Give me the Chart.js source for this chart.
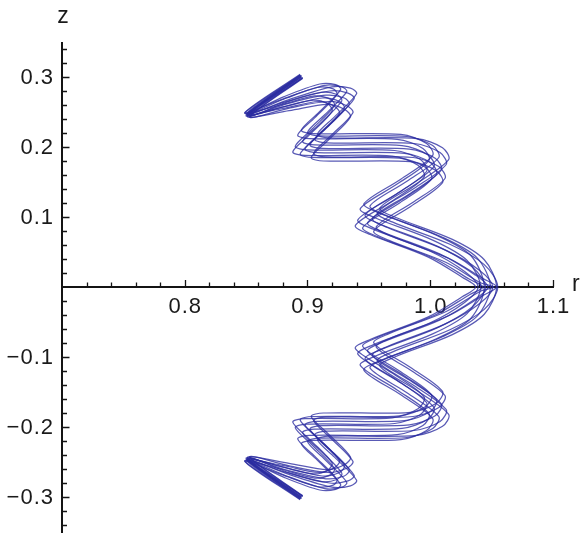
<!DOCTYPE html>
<html>
<head>
<meta charset="utf-8">
<script src="https://cdn.jsdelivr.net/npm/chart.js@4.4.1/dist/chart.umd.min.js"></script>
<style>
  html, body { margin: 0; padding: 0; background: #fff; }
  #wrap { width: 582px; height: 533px; }
</style>
</head>
<body>
<div id="wrap"><canvas id="orbit-chart" width="582" height="533"></canvas></div>
<script>
// axis ranges and tick labels
const rRange = [0.7, 1.1];
const zRange = [-0.35, 0.35];
const rTicks = [0.8, 0.9, 1.0, 1.1];
const rTickLabels = ['0.8', '0.9', '1.0', '1.1'];
const zTicks = [0.3, 0.2, 0.1, -0.1, -0.2, -0.3];
const zTickLabels = ['0.3', '0.2', '0.1', '\u22120.1', '\u22120.2', '\u22120.3'];

// orbits in the (r, z) plane, [r, z] pairs from the top end to the bottom end
const orbit1 = [[0.894,0.304],[0.849,0.249],[0.878,0.260],[0.906,0.273],[0.919,0.268],[0.922,0.259],[0.904,0.226],[0.890,0.201],[0.900,0.196],[0.971,0.195],[0.992,0.182],[0.997,0.165],[0.971,0.131],[0.941,0.096],[0.953,0.083],[1.000,0.051],[1.028,0.022],[1.039,0],
  [1.028,-0.022],[1.000,-0.051],[0.953,-0.083],[0.941,-0.096],[0.971,-0.131],[0.997,-0.165],[0.992,-0.182],[0.971,-0.195],[0.900,-0.196],[0.890,-0.201],[0.904,-0.226],[0.922,-0.259],[0.919,-0.268],[0.906,-0.273],[0.878,-0.260],[0.849,-0.249],[0.894,-0.304]];
const orbit2 = [[0.894,0.303],[0.849,0.249],[0.879,0.268],[0.908,0.285],[0.921,0.283],[0.924,0.275],[0.906,0.242],[0.892,0.217],[0.902,0.212],[0.973,0.211],[0.994,0.198],[0.999,0.181],[0.973,0.147],[0.943,0.112],[0.955,0.099],[1.002,0.067],[1.030,0.038],[1.041,0],
  [1.030,-0.038],[1.002,-0.067],[0.955,-0.099],[0.943,-0.112],[0.973,-0.147],[0.999,-0.181],[0.994,-0.198],[0.973,-0.211],[0.902,-0.212],[0.892,-0.217],[0.906,-0.242],[0.924,-0.275],[0.921,-0.283],[0.908,-0.285],[0.879,-0.268],[0.849,-0.249],[0.894,-0.303]];
const orbit3 = [[0.894,0.302],[0.850,0.247],[0.880,0.255],[0.909,0.265],[0.922,0.258],[0.926,0.248],[0.908,0.215],[0.894,0.190],[0.904,0.185],[0.975,0.184],[0.996,0.171],[1.001,0.154],[0.975,0.120],[0.945,0.085],[0.957,0.072],[1.004,0.040],[1.032,0.011],[1.043,0],
  [1.032,-0.011],[1.004,-0.040],[0.957,-0.072],[0.945,-0.085],[0.975,-0.120],[1.001,-0.154],[0.996,-0.171],[0.975,-0.184],[0.904,-0.185],[0.894,-0.190],[0.908,-0.215],[0.926,-0.248],[0.922,-0.258],[0.909,-0.265],[0.880,-0.255],[0.850,-0.247],[0.894,-0.302]];
const orbit4 = [[0.895,0.302],[0.851,0.247],[0.881,0.264],[0.911,0.278],[0.924,0.275],[0.928,0.266],[0.910,0.233],[0.896,0.208],[0.906,0.203],[0.977,0.202],[0.998,0.189],[1.003,0.172],[0.977,0.138],[0.947,0.103],[0.959,0.090],[1.006,0.058],[1.034,0.029],[1.045,0],
  [1.034,-0.029],[1.006,-0.058],[0.959,-0.090],[0.947,-0.103],[0.977,-0.138],[1.003,-0.172],[0.998,-0.189],[0.977,-0.202],[0.906,-0.203],[0.896,-0.208],[0.910,-0.233],[0.928,-0.266],[0.924,-0.275],[0.911,-0.278],[0.881,-0.264],[0.851,-0.247],[0.895,-0.302]];
const orbit5 = [[0.895,0.301],[0.851,0.245],[0.882,0.258],[0.912,0.270],[0.926,0.265],[0.930,0.255],[0.912,0.222],[0.898,0.197],[0.908,0.192],[0.979,0.191],[1.000,0.178],[1.005,0.161],[0.979,0.127],[0.949,0.092],[0.961,0.079],[1.008,0.047],[1.036,0.018],[1.047,0],
  [1.036,-0.018],[1.008,-0.047],[0.961,-0.079],[0.949,-0.092],[0.979,-0.127],[1.005,-0.161],[1.000,-0.178],[0.979,-0.191],[0.908,-0.192],[0.898,-0.197],[0.912,-0.222],[0.930,-0.255],[0.926,-0.265],[0.912,-0.270],[0.882,-0.258],[0.851,-0.245],[0.895,-0.301]];
const orbit6 = [[0.895,0.300],[0.851,0.247],[0.883,0.270],[0.914,0.288],[0.928,0.286],[0.932,0.279],[0.914,0.246],[0.900,0.221],[0.910,0.216],[0.981,0.215],[1.002,0.202],[1.007,0.185],[0.981,0.151],[0.951,0.116],[0.963,0.103],[1.010,0.071],[1.038,0.042],[1.049,0],
  [1.038,-0.042],[1.010,-0.071],[0.963,-0.103],[0.951,-0.116],[0.981,-0.151],[1.007,-0.185],[1.002,-0.202],[0.981,-0.215],[0.910,-0.216],[0.900,-0.221],[0.914,-0.246],[0.932,-0.279],[0.928,-0.286],[0.914,-0.288],[0.883,-0.270],[0.851,-0.247],[0.895,-0.300]];
const orbit7 = [[0.896,0.299],[0.852,0.245],[0.884,0.262],[0.915,0.274],[0.930,0.270],[0.934,0.261],[0.916,0.228],[0.902,0.203],[0.912,0.198],[0.983,0.197],[1.004,0.184],[1.009,0.167],[0.983,0.133],[0.953,0.098],[0.965,0.085],[1.012,0.053],[1.040,0.024],[1.051,0],
  [1.040,-0.024],[1.012,-0.053],[0.965,-0.085],[0.953,-0.098],[0.983,-0.133],[1.009,-0.167],[1.004,-0.184],[0.983,-0.197],[0.912,-0.198],[0.902,-0.203],[0.916,-0.228],[0.934,-0.261],[0.930,-0.270],[0.915,-0.274],[0.884,-0.262],[0.852,-0.245],[0.896,-0.299]];
const orbit8 = [[0.896,0.299],[0.853,0.243],[0.886,0.256],[0.917,0.265],[0.932,0.259],[0.937,0.249],[0.919,0.216],[0.905,0.191],[0.915,0.186],[0.986,0.185],[1.007,0.172],[1.012,0.155],[0.986,0.121],[0.956,0.086],[0.968,0.073],[1.015,0.041],[1.043,0.012],[1.054,0],
  [1.043,-0.012],[1.015,-0.041],[0.968,-0.073],[0.956,-0.086],[0.986,-0.121],[1.012,-0.155],[1.007,-0.172],[0.986,-0.185],[0.915,-0.186],[0.905,-0.191],[0.919,-0.216],[0.937,-0.249],[0.932,-0.259],[0.917,-0.265],[0.886,-0.256],[0.853,-0.243],[0.896,-0.299]];
const orbit9 = [[0.896,0.298],[0.853,0.244],[0.886,0.266],[0.918,0.280],[0.933,0.277],[0.938,0.269],[0.920,0.236],[0.906,0.211],[0.916,0.206],[0.987,0.205],[1.008,0.192],[1.013,0.175],[0.987,0.141],[0.957,0.106],[0.969,0.093],[1.016,0.061],[1.044,0.032],[1.055,0],
  [1.044,-0.032],[1.016,-0.061],[0.969,-0.093],[0.957,-0.106],[0.987,-0.141],[1.013,-0.175],[1.008,-0.192],[0.987,-0.205],[0.916,-0.206],[0.906,-0.211],[0.920,-0.236],[0.938,-0.269],[0.933,-0.277],[0.918,-0.280],[0.886,-0.266],[0.853,-0.244],[0.896,-0.298]];
const orbit10 = [[0.894,0.303],[0.850,0.245],[0.877,0.256],[0.905,0.267],[0.917,0.261],[0.920,0.251],[0.902,0.218],[0.888,0.193],[0.898,0.188],[0.969,0.187],[0.990,0.174],[0.995,0.157],[0.969,0.123],[0.939,0.088],[0.951,0.075],[0.998,0.043],[1.026,0.014],[1.037,0],
  [1.026,-0.014],[0.998,-0.043],[0.951,-0.075],[0.939,-0.088],[0.969,-0.123],[0.995,-0.157],[0.990,-0.174],[0.969,-0.187],[0.898,-0.188],[0.888,-0.193],[0.902,-0.218],[0.920,-0.251],[0.917,-0.261],[0.905,-0.267],[0.877,-0.256],[0.850,-0.245],[0.894,-0.303]];
const orbit11 = [[0.896,0.299],[0.852,0.247],[0.887,0.269],[0.920,0.286],[0.935,0.284],[0.940,0.276],[0.922,0.243],[0.908,0.218],[0.918,0.213],[0.989,0.212],[1.010,0.199],[1.015,0.182],[0.989,0.148],[0.959,0.113],[0.971,0.100],[1.018,0.068],[1.044,0.039],[1.054,0],
  [1.044,-0.039],[1.018,-0.068],[0.971,-0.100],[0.959,-0.113],[0.989,-0.148],[1.015,-0.182],[1.010,-0.199],[0.989,-0.212],[0.918,-0.213],[0.908,-0.218],[0.922,-0.243],[0.940,-0.276],[0.935,-0.284],[0.920,-0.286],[0.887,-0.269],[0.852,-0.247],[0.896,-0.299]];
const orbit12 = [[0.895,0.302],[0.851,0.248],[0.881,0.272],[0.910,0.290],[0.923,0.289],[0.927,0.282],[0.909,0.249],[0.895,0.224],[0.905,0.219],[0.976,0.218],[0.997,0.205],[1.002,0.188],[0.976,0.154],[0.946,0.119],[0.958,0.106],[1.005,0.074],[1.033,0.045],[1.044,0],
  [1.033,-0.045],[1.005,-0.074],[0.958,-0.106],[0.946,-0.119],[0.976,-0.154],[1.002,-0.188],[0.997,-0.205],[0.976,-0.218],[0.905,-0.219],[0.895,-0.224],[0.909,-0.249],[0.927,-0.282],[0.923,-0.289],[0.910,-0.290],[0.881,-0.272],[0.851,-0.248],[0.895,-0.302]];
const orbit13 = [[0.895,0.300],[0.851,0.244],[0.885,0.252],[0.916,0.261],[0.930,0.254],[0.935,0.243],[0.917,0.210],[0.903,0.185],[0.913,0.180],[0.984,0.179],[1.005,0.166],[1.010,0.149],[0.984,0.115],[0.954,0.080],[0.966,0.067],[1.013,0.035],[1.041,0.006],[1.052,0],
  [1.041,-0.006],[1.013,-0.035],[0.966,-0.067],[0.954,-0.080],[0.984,-0.115],[1.010,-0.149],[1.005,-0.166],[0.984,-0.179],[0.913,-0.180],[0.903,-0.185],[0.917,-0.210],[0.935,-0.243],[0.930,-0.254],[0.916,-0.261],[0.885,-0.252],[0.851,-0.244],[0.895,-0.300]];

const orbits = [orbit1, orbit2, orbit3, orbit4, orbit5, orbit6, orbit7,
  orbit8, orbit9, orbit10, orbit11, orbit12, orbit13];

const labelFont = '22px "Liberation Sans", Arial, sans-serif';

// axes crossing at (0.7, 0) with inward ticks, drawn under the orbits
const crossedAxes = {
  id: 'crossedAxes',
  beforeDatasetsDraw(chart) {
    const ctx = chart.ctx;
    const xs = chart.scales.x;
    const ys = chart.scales.y;
    const x0 = xs.getPixelForValue(rRange[0]);
    const x1 = xs.getPixelForValue(rRange[1]);
    const y0 = ys.getPixelForValue(0);
    const yTop = ys.getPixelForValue(zRange[1]);
    const yBot = ys.getPixelForValue(zRange[0]) + 2;

    ctx.save();
    ctx.strokeStyle = '#141414';
    ctx.lineWidth = 2;
    ctx.beginPath();
    ctx.moveTo(x0, y0);
    ctx.lineTo(x1 + 1, y0);
    ctx.moveTo(x0, yTop);
    ctx.lineTo(x0, yBot);
    ctx.stroke();

    // tick marks every 0.02, longer at the labelled values
    ctx.lineWidth = 1.3;
    ctx.beginPath();
    for (let i = 1; i <= 20; i++) {
      const px = Math.round(xs.getPixelForValue(rRange[0] + i * 0.02)) + 0.5;
      const len = i % 5 === 0 ? 7 : 4.5;
      ctx.moveTo(px, y0);
      ctx.lineTo(px, y0 - len);
    }
    for (let i = -17; i <= 17; i++) {
      if (i === 0) continue;
      const py = Math.round(ys.getPixelForValue(i * 0.02)) + 0.5;
      const len = i % 5 === 0 ? 7.5 : 5;
      ctx.moveTo(x0, py);
      ctx.lineTo(x0 + len, py);
    }
    ctx.stroke();

    ctx.fillStyle = '#1a1a1a';
    ctx.font = labelFont;
    ctx.letterSpacing = '1px';
    ctx.textBaseline = 'alphabetic';
    ctx.textAlign = 'center';
    rTicks.forEach((v, i) => {
      ctx.fillText(rTickLabels[i], xs.getPixelForValue(v) + 0.5, y0 + 25.5);
    });
    ctx.textAlign = 'right';
    zTicks.forEach((v, i) => {
      ctx.fillText(zTickLabels[i], x0 - 8, ys.getPixelForValue(v) + 7);
    });

    // axis names
    ctx.letterSpacing = '0px';
    ctx.font = '23px "Liberation Sans", Arial, sans-serif';
    ctx.textAlign = 'center';
    ctx.fillText('z', x0 + 1, 23);
    ctx.textAlign = 'left';
    ctx.fillText('r', x1 + 19, y0 + 4);
    ctx.restore();
  }
};

new Chart(document.getElementById('orbit-chart'), {
  type: 'scatter',
  data: {
    datasets: orbits.map((orbit, i) => ({
      label: 'orbit ' + (i + 1),
      data: orbit.map(([r, z]) => ({ x: r, y: z })),
      showLine: true,
      borderColor: 'rgba(42, 44, 160, 0.78)',
      borderWidth: 1.25,
      pointRadius: 0,
      tension: 0.3,
      fill: false
    }))
  },
  options: {
    responsive: false,
    animation: false,
    devicePixelRatio: 1,
    layout: { padding: { left: 62, right: 29, top: 42, bottom: 1 } },
    scales: {
      x: { type: 'linear', min: rRange[0], max: rRange[1], display: false },
      y: { type: 'linear', min: zRange[0], max: zRange[1], display: false }
    },
    plugins: {
      legend: { display: false },
      tooltip: { enabled: false }
    }
  },
  plugins: [crossedAxes]
});
</script>
</body>
</html>
